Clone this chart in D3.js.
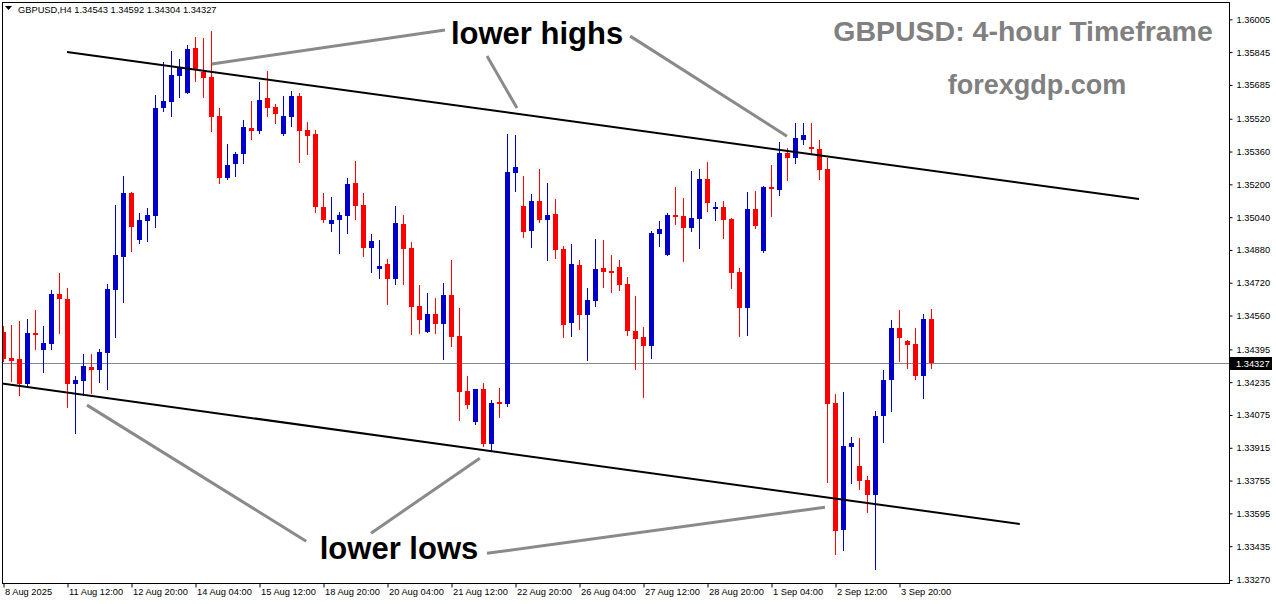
<!DOCTYPE html>
<html><head><meta charset="utf-8">
<script src="https://cdn.jsdelivr.net/npm/d3@7"></script>
<style>body{margin:0;background:#fff;}svg{display:block;}</style>
</head><body>
<svg id="c" width="1276" height="604"></svg>
<script>
// ---- data (GBPUSD H4, bar 0 = 8 Aug 2025 04:00, bar 116 = 4 Sep 12:00) ----
const openP = [1.34480,1.34353,1.34347,1.34225,1.34474,1.34391,1.34422,1.34664,1.34640,1.34225,
1.34240,1.34308,1.34293,1.34378,1.34684,1.34846,1.35157,1.34928,1.35021,1.35045,
1.35572,1.35603,1.35728,1.35647,1.35865,1.35749,1.35723,1.35533,1.35232,1.35297,
1.35350,1.35474,1.35460,1.35621,1.35577,1.35445,1.35530,1.35631,1.35465,1.35445,
1.35089,1.35006,1.35025,1.35045,1.35206,1.35099,1.34889,1.34786,1.34811,1.34738,
1.35006,1.34889,1.34606,1.34479,1.34567,1.34518,1.34659,1.34459,1.34191,1.34040,
1.34201,1.33932,1.34137,1.34128,1.35255,1.35094,1.34972,1.35118,1.35025,1.35055,
1.34884,1.34523,1.34806,1.34562,1.34630,1.34791,1.34777,1.34796,1.34713,1.34484,
1.34454,1.34411,1.34957,1.34855,1.35050,1.35045,1.34986,1.35030,1.35226,1.35079,
1.35089,1.35030,1.34772,1.34596,1.35079,1.34874,1.35186,1.35172,1.35352,1.35328,
1.35416,1.35382,1.35372,1.35274,1.34132,1.33513,1.33918,1.33825,1.33757,1.33683,
1.34069,1.34245,1.34498,1.34435,1.34420,1.34264,1.34543];
const highP = [1.34508,1.34513,1.34534,1.34542,1.34586,1.34508,1.34684,1.34767,1.34695,1.34264,
1.34372,1.34372,1.34397,1.34715,1.35099,1.35240,1.35161,1.35061,1.35084,1.35635,
1.35795,1.35850,1.35810,1.35879,1.35917,1.35912,1.35948,1.35571,1.35396,1.35356,
1.35513,1.35606,1.35699,1.35753,1.35592,1.35631,1.35655,1.35645,1.35504,1.35465,
1.35157,1.35138,1.35066,1.35230,1.35313,1.35157,1.34957,1.34928,1.34835,1.35094,
1.35050,1.34918,1.34708,1.34669,1.34645,1.34718,1.34830,1.34596,1.34264,1.34201,
1.34230,1.34147,1.34206,1.35445,1.35440,1.35240,1.35152,1.35274,1.35206,1.35128,
1.34899,1.34908,1.34830,1.34694,1.34933,1.34928,1.34855,1.34830,1.34747,1.34655,
1.34503,1.34972,1.35021,1.35060,1.35186,1.35133,1.35265,1.35274,1.35308,1.35113,
1.35118,1.35035,1.34791,1.35162,1.35167,1.35191,1.35294,1.35406,1.35377,1.35499,
1.35499,1.35499,1.35416,1.35328,1.34176,1.34186,1.33966,1.33962,1.33776,1.34093,
1.34293,1.34537,1.34586,1.34440,1.34498,1.34567,1.34592];
const lowP = [1.34337,1.34241,1.34171,1.34220,1.34399,1.34285,1.34399,1.34475,1.34114,1.33987,
1.34171,1.34180,1.34236,1.34202,1.34456,1.34627,1.34876,1.34915,1.34924,1.34993,
1.35559,1.35533,1.35627,1.35644,1.35705,1.35627,1.35461,1.35207,1.35224,1.35240,
1.35305,1.35421,1.35451,1.35533,1.35500,1.35442,1.35484,1.35310,1.35348,1.35064,
1.35016,1.34972,1.34864,1.34962,1.35030,1.34850,1.34772,1.34742,1.34616,1.34713,
1.34713,1.34469,1.34474,1.34479,1.34474,1.34347,1.34411,1.34049,1.34108,1.34030,
1.33923,1.33903,1.34064,1.34118,1.35167,1.34942,1.34894,1.35016,1.34830,1.34840,
1.34454,1.34459,1.34494,1.34342,1.34606,1.34698,1.34674,1.34684,1.34464,1.34298,
1.34162,1.34352,1.34899,1.34855,1.35006,1.34825,1.34972,1.34889,1.35069,1.35025,
1.34938,1.34694,1.34459,1.34464,1.34986,1.34869,1.35045,1.35147,1.35221,1.35304,
1.35396,1.35348,1.35226,1.33747,1.33396,1.33415,1.33742,1.33713,1.33600,1.33322,
1.33942,1.34093,1.34337,1.34303,1.34250,1.34157,1.34304];
const closeP = [1.34346,1.34339,1.34225,1.34474,1.34469,1.34425,1.34664,1.34641,1.34225,1.34245,
1.34313,1.34293,1.34381,1.34689,1.34855,1.35157,1.34993,1.35025,1.35050,1.35572,
1.35606,1.35733,1.35774,1.35860,1.35761,1.35720,1.35530,1.35229,1.35294,1.35348,
1.35479,1.35461,1.35611,1.35573,1.35544,1.35533,1.35631,1.35460,1.35437,1.35090,
1.35025,1.35025,1.35050,1.35201,1.35094,1.34889,1.34923,1.34801,1.34738,1.35011,
1.34884,1.34601,1.34537,1.34567,1.34518,1.34659,1.34454,1.34186,1.34123,1.34201,
1.33932,1.34132,1.34132,1.35260,1.35284,1.34967,1.35118,1.35025,1.35050,1.34879,
1.34513,1.34811,1.34562,1.34635,1.34786,1.34772,1.34767,1.34708,1.34484,1.34445,
1.34411,1.34962,1.34982,1.35050,1.35040,1.34986,1.35035,1.35226,1.35108,1.35089,
1.35025,1.34767,1.34596,1.35079,1.34996,1.35186,1.35182,1.35352,1.35328,1.35426,
1.35440,1.35372,1.35269,1.34128,1.33508,1.33923,1.33937,1.33752,1.33683,1.34069,
1.34245,1.34498,1.34450,1.34415,1.34264,1.34542,1.34327];

const xTickLabels = ["8 Aug 2025","11 Aug 12:00","12 Aug 20:00","14 Aug 04:00","15 Aug 12:00",
"18 Aug 20:00","20 Aug 04:00","21 Aug 12:00","22 Aug 20:00","26 Aug 04:00","27 Aug 12:00",
"28 Aug 20:00","1 Sep 04:00","2 Sep 12:00","3 Sep 20:00"];
const barsPerLabel = 8;
const yTickValues = [1.36005,1.35845,1.35685,1.35520,1.35360,1.35200,1.35040,1.34880,1.34720,
1.34560,1.34395,1.34235,1.34075,1.33915,1.33755,1.33595,1.33435,1.33270];
const lastPrice = 1.34327;
const headerText = "GBPUSD,H4  1.34543 1.34592 1.34304 1.34327";

// channel lines (bar index, price)
const upperChannel = [[8,1.35845],[142,1.35128]];
const lowerChannel = [[-0.125,1.34228],[127.1,1.33543]];
// annotation pointers (bar index, price)
const pointers = [
  [[26.1,1.35787],[55.25,1.35953]],
  [[60.5,1.35826],[64.25,1.35572]],
  [[78.4,1.35923],[98,1.35435]],
  [[10.5,1.34123],[37.9,1.33459]],
  [[46.0,1.33498],[59.6,1.33864]],
  [[60.5,1.33400],[102.75,1.33625]]
];

// ---- drawing ----
const frame = {left:2, top:2, right:1229, bottom:583};
const x = d3.scaleLinear().domain([0,116]).range([3,931]);
const y = d3.scaleLinear().domain([1.33270,1.36005]).range([580,19.3]);
const UP = "#0000cc", DN = "#ff0000";
const FONT = "'Liberation Sans', Arial, sans-serif";

const svg = d3.select("#c");
svg.append("rect").attr("width",1276).attr("height",604).attr("fill","#fff");
svg.append("defs").append("clipPath").attr("id","clip").append("rect")
  .attr("x",frame.left+0.5).attr("y",frame.top+0.5)
  .attr("width",frame.right-frame.left-0.5).attr("height",frame.bottom-frame.top-0.5);

const g = svg.append("g").attr("clip-path","url(#clip)");

// current price line
const yl = Math.round(y(lastPrice))+0.5;
g.append("line").attr("x1",frame.left).attr("x2",frame.right).attr("y1",yl).attr("y2",yl)
  .attr("stroke","#7d8a97").attr("stroke-width",1);

// candles
const idx = d3.range(openP.length);
const cg = g.append("g").selectAll("g").data(idx).join("g");
const col = i => closeP[i] >= openP[i] ? UP : DN;
cg.append("line")
  .attr("x1",i=>Math.round(x(i))+0.5).attr("x2",i=>Math.round(x(i))+0.5)
  .attr("y1",i=>Math.round(y(highP[i]))).attr("y2",i=>Math.round(y(lowP[i]))+1)
  .attr("stroke",col).attr("stroke-width",1);
cg.append("rect")
  .attr("x",i=>Math.round(x(i))-2).attr("width",5)
  .attr("y",i=>Math.round(y(Math.max(openP[i],closeP[i]))))
  .attr("height",i=>Math.max(2,Math.round(y(Math.min(openP[i],closeP[i])))-Math.round(y(Math.max(openP[i],closeP[i])))))
  .attr("fill",col);

// channel lines
const line = d3.line().x(d=>x(d[0])).y(d=>y(d[1]));
g.append("path").attr("d",line(upperChannel)).attr("stroke","#000").attr("stroke-width",2).attr("fill","none");
g.append("path").attr("d",line(lowerChannel)).attr("stroke","#000").attr("stroke-width",2).attr("fill","none");

// pointer lines
g.append("g").selectAll("path").data(pointers).join("path")
  .attr("d",d=>line(d)).attr("stroke","#8a8a8a").attr("stroke-width",3).attr("fill","none");

// annotation texts
svg.append("text").attr("x",537).attr("y",44).attr("text-anchor","middle")
  .attr("font-family",FONT).attr("font-weight","bold").attr("font-size",31).attr("fill","#000").text("lower highs");
svg.append("text").attr("x",399).attr("y",559).attr("text-anchor","middle")
  .attr("font-family",FONT).attr("font-weight","bold").attr("font-size",31).attr("fill","#000").text("lower lows");
svg.append("text").attr("x",1023).attr("y",41).attr("text-anchor","middle")
  .attr("font-family",FONT).attr("font-weight","bold").attr("font-size",28.5).attr("fill","#808080").text("GBPUSD: 4-hour Timeframe");
svg.append("text").attr("x",1037).attr("y",94).attr("text-anchor","middle")
  .attr("font-family",FONT).attr("font-weight","bold").attr("font-size",27).attr("fill","#808080").text("forexgdp.com");

// header
svg.append("path").attr("d","M5,6 L12,6 L8.5,10 Z").attr("fill","#000");
svg.append("text").attr("x",18).attr("y",13).attr("font-family",FONT).attr("font-size",9.3).attr("fill","#000").text(headerText);

// frame
svg.append("rect").attr("x",frame.left+0.5).attr("y",frame.top+0.5)
  .attr("width",frame.right-frame.left).attr("height",frame.bottom-frame.top)
  .attr("fill","none").attr("stroke","#000").attr("stroke-width",1);

// y axis
const yAxis = d3.axisRight(y).tickValues(yTickValues).tickFormat(d3.format(".5f")).tickSize(3).tickPadding(4);
const ya = svg.append("g").attr("transform",`translate(${frame.right+0.5},0)`).call(yAxis);
ya.select(".domain").remove();
ya.selectAll("text").attr("font-family",FONT).attr("font-size",9.3).attr("fill","#000");
ya.selectAll("line").attr("stroke","#000");

// current price label
svg.append("rect").attr("x",frame.right+1).attr("y",yl-6.5).attr("width",42).attr("height",13).attr("fill","#000");
svg.append("text").attr("x",frame.right+7).attr("y",yl+3.5).attr("font-family",FONT).attr("font-size",9.3)
  .attr("fill","#fff").text(d3.format(".5f")(lastPrice));

// x axis
const xTicks = xTickLabels.map((_,k)=>k*barsPerLabel);
const xAxis = d3.axisBottom(x).tickValues(xTicks).tickFormat((d,k)=>xTickLabels[k]).tickSize(4).tickPadding(1);
const xa = svg.append("g").attr("transform",`translate(0.5,${frame.bottom+0.5})`).call(xAxis);
xa.select(".domain").remove();
xa.selectAll("text").attr("text-anchor","start").attr("dx",1).attr("font-family",FONT).attr("font-size",9.3).attr("fill","#000");
xa.selectAll("line").attr("stroke","#000");
</script>
</body></html>
